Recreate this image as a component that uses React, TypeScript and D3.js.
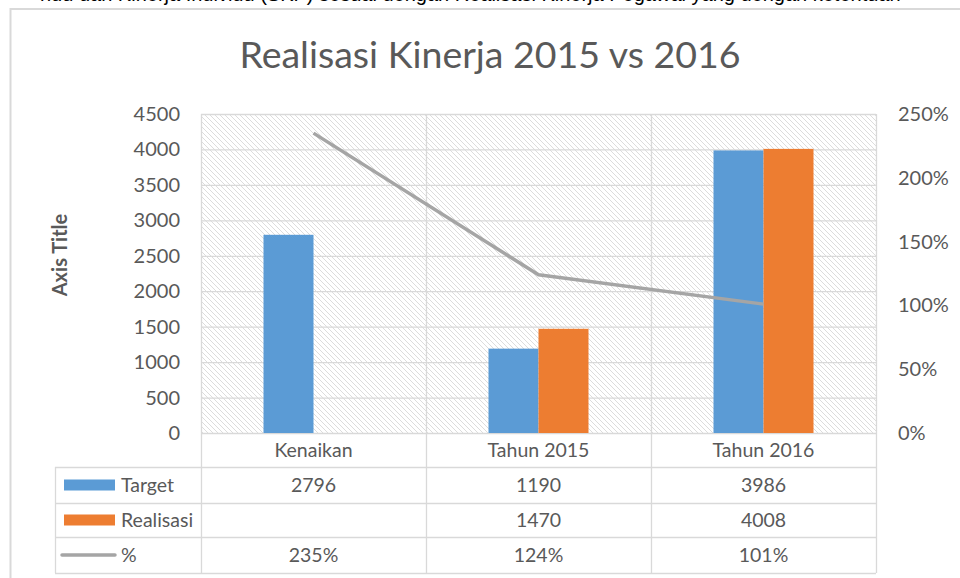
import React from "react";
import * as d3 from "d3";

const categories = ["Kenaikan", "Tahun 2015", "Tahun 2016"];
const targetValues = [2796, 1190, 3986];
const realisasiValues: (number | null)[] = [null, 1470, 4008];
const pctValues = [2.35, 1.24, 1.01];
const leftTicks = [0, 500, 1000, 1500, 2000, 2500, 3000, 3500, 4000, 4500];
const rightTicks = [0, 0.5, 1, 1.5, 2, 2.5];
const seriesNames = ["Target", "Realisasi", "%"];
const title = "Realisasi Kinerja 2015 vs 2016";
const axisTitle = "Axis Title";

const BLUE = "#5b9bd5";
const ORANGE = "#ed7d31";
const GRAY = "#a5a5a5";
const TEXT = "#595959";
const GRID = "#d9d9d9";
const FONT = "Lato, 'Open Sans', sans-serif";

export default function App() {
  const W = 960, H = 578;
  const left = 201, right = 876, top = 114, bottom = 433;
  const rowBounds = [433, 467, 503, 537, 573];
  const tableLeft = 55;

  const x = d3.scaleBand<string>().domain(categories).range([left, right]).padding(0);
  const inner = d3.scaleBand<string>().domain(["Target", "Realisasi"]).range([0, x.bandwidth()]).paddingInner(0).paddingOuter(1.25);
  const y = d3.scaleLinear().domain([0, 4500]).range([bottom, top]);
  const y2 = d3.scaleLinear().domain([0, 2.5]).range([bottom, top]);
  const cx = (c: string) => (x(c) as number) + x.bandwidth() / 2;

  const line = d3.line<number>().x((_, i) => cx(categories[i])).y((d) => y2(d));
  const pctFmt = d3.format(".0%");

  const rowMid = (i: number) => (rowBounds[i] + rowBounds[i + 1]) / 2;
  const fs = 19.5;

  return (
    <svg width={W} height={H} style={{ position: "absolute", left: 0, top: 0, background: "#fff" }} fontFamily={FONT}>
      <defs>
        <pattern id="hatch" width="5" height="5" patternUnits="userSpaceOnUse">
          <rect width="5" height="5" fill="#fff" />
          <path d="M-1,-1 L6,6 M-1,4 L1,6 M4,-1 L6,1" stroke="#dcdcdc" strokeWidth="1" />
        </pattern>
      </defs>
      {/* cut-off document text above chart */}
      <text x={40} y={1} fontSize={20} fill="#000" fontFamily="'Liberation Sans', sans-serif">
        ndu dan Kinerja Individu (SKP) sesuai dengan Realisasi Kinerja Pegawai yang dengan ketentuan
      </text>
      {/* chart border */}
      <rect x={10.5} y={9} width={W + 10} height={H + 10} fill="#fff" stroke={GRID} strokeWidth={2} />

      <text x={490} y={68} textAnchor="middle" fontSize={37.5} fill={TEXT}>{title}</text>

      {/* plot area */}
      <rect x={left} y={top} width={right - left} height={bottom - top} fill="url(#hatch)" />
      {leftTicks.map((t) => (
        <line key={"g" + t} x1={left} x2={right} y1={y(t) + 0.5} y2={y(t) + 0.5} stroke={GRID} strokeWidth={1.3} />
      ))}
      {[left, x(categories[1]) as number, x(categories[2]) as number, right].map((v, i) => (
        <line key={"v" + i} x1={v + 0.5} x2={v + 0.5} y1={top} y2={rowBounds[4]} stroke={GRID} strokeWidth={1.3} />
      ))}

      {/* bars */}
      {categories.map((c, i) => (
        <g key={c}>
          <rect x={(x(c) as number) + (inner("Target") as number)} y={y(targetValues[i])} width={inner.bandwidth()} height={bottom - y(targetValues[i])} fill={BLUE} />
          {realisasiValues[i] != null && (
            <rect x={(x(c) as number) + (inner("Realisasi") as number)} y={y(realisasiValues[i] as number)} width={inner.bandwidth()} height={bottom - y(realisasiValues[i] as number)} fill={ORANGE} />
          )}
        </g>
      ))}

      {/* line */}
      <path d={line(pctValues) as string} fill="none" stroke={GRAY} strokeWidth={3.5} strokeLinejoin="round" />

      {/* left axis */}
      {leftTicks.map((t) => (
        <text key={"l" + t} x={180} y={y(t)} dy="0.35em" textAnchor="end" fontSize={20} fill={TEXT}>{t}</text>
      ))}
      {/* right axis */}
      {rightTicks.map((t) => (
        <text key={"r" + t} x={898} y={y2(t)} dy="0.35em" textAnchor="start" fontSize={20} fill={TEXT}>{pctFmt(t)}</text>
      ))}
      <text transform={`translate(67,255) rotate(-90)`} textAnchor="middle" fontSize={20} fontWeight="bold" fill={TEXT}>{axisTitle}</text>

      {/* data table */}
      {rowBounds.slice(1).map((r, i) => (
        <line key={"h" + i} x1={tableLeft} x2={right} y1={r + 0.5} y2={r + 0.5} stroke={GRID} strokeWidth={1.3} />
      ))}
      <line x1={tableLeft + 0.5} x2={tableLeft + 0.5} y1={rowBounds[1]} y2={rowBounds[4]} stroke={GRID} strokeWidth={1.3} />
      {categories.map((c) => (
        <text key={"c" + c} x={cx(c)} y={rowMid(0)} dy="0.35em" textAnchor="middle" fontSize={fs} fill={TEXT}>{c}</text>
      ))}
      {categories.map((c, i) => (
        <g key={"d" + c}>
          <text x={cx(c)} y={rowMid(1)} dy="0.35em" textAnchor="middle" fontSize={fs} fill={TEXT}>{targetValues[i]}</text>
          {realisasiValues[i] != null && (
            <text x={cx(c)} y={rowMid(2)} dy="0.35em" textAnchor="middle" fontSize={fs} fill={TEXT}>{realisasiValues[i]}</text>
          )}
          <text x={cx(c)} y={rowMid(3)} dy="0.35em" textAnchor="middle" fontSize={fs} fill={TEXT}>{pctFmt(pctValues[i])}</text>
        </g>
      ))}
      {/* legend keys */}
      <rect x={64} y={rowMid(1) - 5.5} width={51} height={11} fill={BLUE} />
      <rect x={64} y={rowMid(2) - 5.5} width={51} height={11} fill={ORANGE} />
      <line x1={62} x2={115} y1={rowMid(3)} y2={rowMid(3)} stroke={GRAY} strokeWidth={3.5} strokeLinecap="round" />
      {seriesNames.map((s, i) => (
        <text key={"s" + s} x={121} y={rowMid(i + 1)} dy="0.35em" fontSize={fs} fill={TEXT}>{s}</text>
      ))}
    </svg>
  );
}
